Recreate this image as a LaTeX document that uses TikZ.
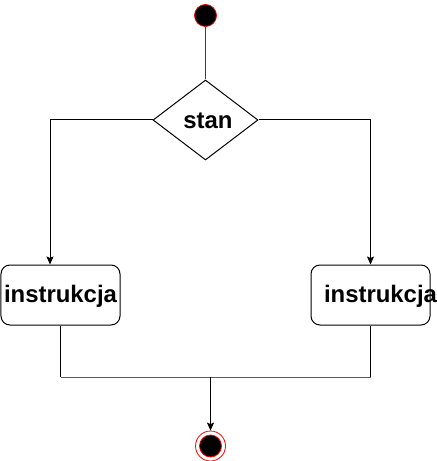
\documentclass[tikz,border=0pt]{standalone}
\usepackage{fontspec}
\setmainfont{Liberation Sans}
\usetikzlibrary{arrows.meta,shapes.geometric}
\begin{document}
\begin{tikzpicture}[x=1bp,y=-1bp,
  line width=1bp,
  lbl/.style={font=\fontsize{24}{27}\selectfont\bfseries, inner sep=0pt},
  instbox/.style={draw, rounded corners=9bp, minimum width=119bp, minimum height=60bp, inner sep=0pt},
  conn/.style={draw=black},
  arr/.style={conn, -{Stealth[length=8bp,width=7bp,inset=1.5bp]}}]
\useasboundingbox (0,0) rectangle (437,461);
\node[circle, draw=red, fill=black, minimum size=22bp, inner sep=0pt, line width=0.8bp] (start) at (205.5,15.5) {};
\node[diamond, draw, minimum width=105bp, minimum height=80bp, inner sep=0pt, aspect=1.3] (d) at (205.5,120) {};
\node[lbl] (dl) at (208,121) {stan};
\node[instbox] (lb) at (60.5,295) {};
\node[lbl] (lbt) at (60.5,296) {instrukcja};
\node[instbox] (rb) at (370.5,295) {};
\node[lbl] (rbt) at (380.5,296) {instrukcja};
\node[circle, draw=red, fill=white, minimum size=30bp, inner sep=0pt, line width=0.8bp] (endo) at (210.5,446) {};
\node[circle, draw=red, fill=black, minimum size=22bp, inner sep=0pt, line width=0.8bp] (endi) at (210.5,446) {};
\coordinate (lt) at (50,120);
\coordinate (j) at (210.5,377);
\draw[red!80!black] (start) -- (d.north);
\draw[arr] (d.west) -- (lt) -- (lt |- lb.north);
\draw[arr] (d.east) -| (rb.north);
\draw[conn] (lb.south) -- (lb.south |- j);
\draw[conn] (rb.south) -- (rb.south |- j);
\draw[draw=black!65] (lb.south |- j) -- (rb.south |- j);
\draw[arr] (j) -- (endo.north);
\end{tikzpicture}
\end{document}
